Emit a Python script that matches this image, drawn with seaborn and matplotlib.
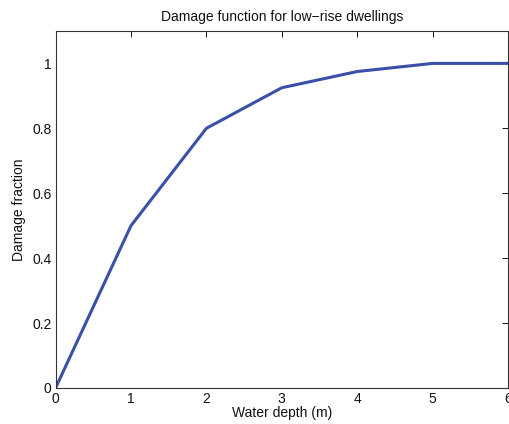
import pandas as pd
import matplotlib
matplotlib.use('Agg')
import matplotlib.pyplot as plt
import seaborn as sns

# damage curve for low-rise dwellings
depth = [0, 1, 2, 3, 4, 5, 6]
damage = [0, 0.5, 0.8, 0.925, 0.975, 1.0, 1.0]

df = pd.DataFrame({'depth': depth, 'damage': damage})

sns.set_style('white')
plt.rcParams['font.family'] = ['Liberation Sans', 'DejaVu Sans']
plt.rcParams['font.size'] = 10

fig = plt.figure(figsize=(5.1, 4.24), dpi=100)
ax = fig.add_axes([0.109, 0.085, 0.887, 0.842])
sns.lineplot(data=df, x='depth', y='damage', color='#3a50a8', linewidth=2.2, ax=ax)

ax.set_xlim(0, 6)
ax.set_ylim(0, 1.1)
ax.set_xticks(range(7))
ax.set_yticks([0, 0.2, 0.4, 0.6, 0.8, 1.0])
ax.set_yticklabels(['0', '0.2', '0.4', '0.6', '0.8', '1'])
ax.tick_params(direction='in', top=True, right=True, length=4, width=0.7,
               labelsize=10, colors='#111111', pad=3)
for s in ax.spines.values():
    s.set_linewidth(0.8)
    s.set_color('#333333')

ax.set_title('Damage function for low\u2212rise dwellings', fontsize=10, pad=7, color='#111111')
ax.set_xlabel('Water depth (m)', fontsize=10, labelpad=0, color='#111111')
ax.set_ylabel('Damage fraction', fontsize=10, labelpad=4, color='#111111')

fig.savefig('out.png', dpi=100)
